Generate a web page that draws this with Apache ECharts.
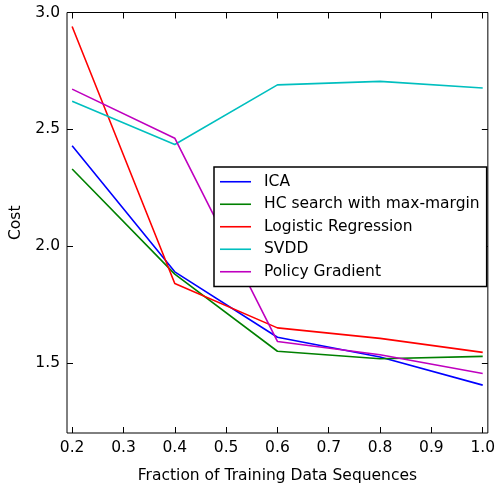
<!DOCTYPE html>
<html>
<head>
<meta charset="utf-8">
<script src="https://cdn.jsdelivr.net/npm/echarts@6/dist/echarts.min.js"></script>
<style>
  html, body { margin: 0; padding: 0; background: #fff; }
  #chart { width: 498px; height: 489px; }
</style>
</head>
<body>
<div id="chart"></div>
<script>
// fraction of training data
var fractions = [0.2, 0.4, 0.6, 0.8, 1.0];
var xTicks = [0.2, 0.3, 0.4, 0.5, 0.6, 0.7, 0.8, 0.9, 1.0];
var yTicks = [1.5, 2.0, 2.5, 3.0];

var names = ['ICA', 'HC search with max-margin', 'Logistic Regression', 'SVDD', 'Policy Gradient'];
var colors = ['#0000ff', '#008000', '#ff0000', '#00bfbf', '#bf00bf'];

var ica = [2.43, 1.89, 1.61, 1.525, 1.405];
var hcSearch = [2.33, 1.88, 1.55, 1.518, 1.528];
var logReg = [2.94, 1.84, 1.65, 1.605, 1.545];
var svdd = [2.62, 2.435, 2.69, 2.705, 2.677];
var policyGrad = [2.672, 2.462, 1.592, 1.535, 1.455];

var allValues = [ica, hcSearch, logReg, svdd, policyGrad];

var chart = echarts.init(document.getElementById('chart'));

var font = 'DejaVu Sans';
var fs = 15.5;

function pairs(vals) {
  var out = [];
  for (var i = 0; i < fractions.length; i++) {
    out.push([fractions[i], vals[i]]);
  }
  return out;
}

var series = [];
var legendData = [];
for (var k = 0; k < names.length; k++) {
  series.push({
    name: names[k],
    type: 'line',
    symbol: 'none',
    data: pairs(allValues[k]),
    lineStyle: { color: colors[k], width: 1.6 },
    itemStyle: { color: colors[k] },
    animation: false
  });
  legendData.push({ name: names[k], icon: 'rect', itemStyle: { color: colors[k] } });
}

var tickStyle = { show: true, inside: true, length: 6, lineStyle: { color: '#000', width: 1 } };

var option = {
  backgroundColor: '#fff',
  animation: false,
  grid: {
    left: 63.5, right: 6, top: 12.5, bottom: 48.5,
    show: true, borderColor: '#000', borderWidth: 1, backgroundColor: 'transparent'
  },
  xAxis: [{
    type: 'value', min: 0.19, max: 1.01,
    name: 'Fraction of Training Data Sequences',
    nameLocation: 'middle', nameGap: 35,
    nameTextStyle: { fontFamily: font, fontSize: fs, color: '#000' },
    axisLine: { show: false },
    axisTick: Object.assign({ customValues: xTicks }, tickStyle),
    axisLabel: {
      customValues: xTicks, fontFamily: font, fontSize: fs, color: '#000', margin: 7,
      formatter: function (v) { return v.toFixed(1); }
    },
    splitLine: { show: false }
  }, {
    type: 'value', min: 0.19, max: 1.01, position: 'top',
    axisLine: { show: false },
    axisTick: Object.assign({ customValues: xTicks }, tickStyle),
    axisLabel: { show: false },
    splitLine: { show: false }
  }],
  yAxis: [{
    type: 'value', min: 1.2, max: 3.0,
    name: 'Cost',
    nameLocation: 'middle', nameGap: 43,
    nameTextStyle: { fontFamily: font, fontSize: fs, color: '#000' },
    axisLine: { show: false },
    axisTick: Object.assign({ customValues: yTicks }, tickStyle),
    axisLabel: {
      customValues: yTicks, fontFamily: font, fontSize: fs, color: '#000', margin: 7,
      formatter: function (v) { return v.toFixed(1); }
    },
    splitLine: { show: false }
  }, {
    type: 'value', min: 1.2, max: 3.0, position: 'right',
    axisLine: { show: false },
    axisTick: Object.assign({ customValues: yTicks }, tickStyle),
    axisLabel: { show: false },
    splitLine: { show: false }
  }],
  legend: {
    orient: 'vertical',
    left: 214, top: 167,
    padding: [6, 7, 6, 6],
    itemWidth: 31, itemHeight: 1.6, itemGap: 5,
    backgroundColor: '#fff',
    borderColor: '#000', borderWidth: 1.5,
    textStyle: { fontFamily: font, fontSize: fs, lineHeight: 17.5, color: '#000', padding: [0, 0, 0, 8] },
    data: legendData
  },
  series: series
};

chart.setOption(option);
</script>
</body>
</html>
